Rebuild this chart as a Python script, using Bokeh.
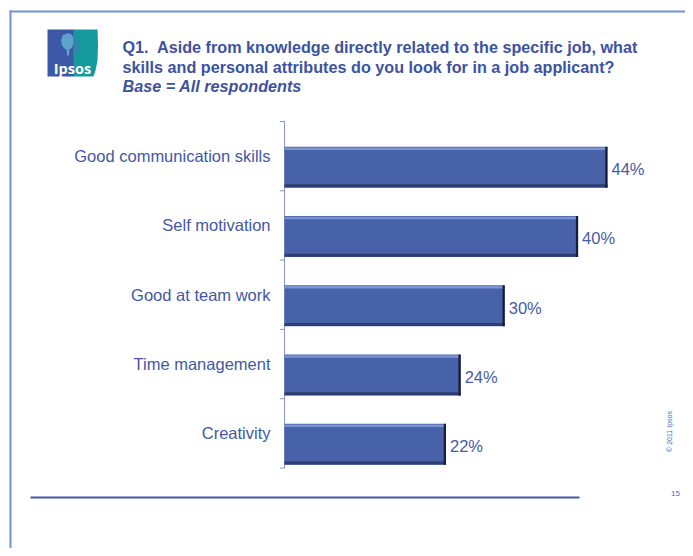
import math
from bokeh.plotting import figure
from bokeh.models import Range1d
from bokeh.core.properties import value
from bokeh.embed import file_html
from bokeh.resources import INLINE

# ---- data ----
categories = ["Good communication skills", "Self motivation", "Good at team work",
              "Time management", "Creativity"]
percent = [44, 40, 30, 24, 22]
value_labels = ["44%", "40%", "30%", "24%", "22%"]
title_lines = ["Q1.\u00a0 Aside from knowledge directly related to the specific job, what",
               "skills and personal attributes do you look for in a job applicant?"]
base_text = "Base = All respondents"

W, H = 685, 548
# chart geometry (page pixels)
AX_X, AX_TOP, BAND, PX_PER_PCT = 284, 121, 69.3, 7.34

n = len(categories)
cat_pos = [k + 0.5 for k in range(n)]              # band centres, top to bottom
bar_off = 11 / BAND
bar_y = [c + bar_off for c in cat_pos]
boundaries = list(range(n + 1))

p = figure(width=W, height=H, output_backend="svg", toolbar_location=None,
           x_range=Range1d(0, W), y_range=Range1d(H, 0),
           x_axis_location=None, y_axis_location=None,
           min_border=0)
p.extra_x_ranges = {"pct": Range1d(-AX_X / PX_PER_PCT, (W - AX_X) / PX_PER_PCT)}
p.extra_y_ranges = {"cat": Range1d((H - AX_TOP) / BAND, -AX_TOP / BAND)}
p.outline_line_color = None
p.grid.visible = False
p.background_fill_color = "white"
p.border_fill_color = "white"

LBL = "#4357a5"
FONT = value("Liberation Sans")

# ---- category axis ----
p.segment(x0=[0], y0=[0], x1=[0], y1=[n], x_range_name="pct", y_range_name="cat",
          line_color="#8c96c4", line_width=1)
p.scatter(x=[-2.2 / PX_PER_PCT] * len(boundaries), y=boundaries, marker="dash", size=5,
          line_color="#8c96c4", x_range_name="pct", y_range_name="cat")
p.text(x=[0] * n, y=cat_pos, text=categories, x_offset=-14, text_align="right",
       text_baseline="middle", text_font=FONT, text_font_size="16.5px", text_color=LBL,
       x_range_name="pct", y_range_name="cat")

# ---- bars ----
bh = 41 / BAND
px = 1.0 / BAND
p.hbar(y=bar_y, right=percent, left=0, height=bh, fill_color="#4762a9", line_color=None,
       x_range_name="pct", y_range_name="cat")
p.hbar(y=[b - bh / 2 + 2 * px for b in bar_y], right=percent, left=0, height=2.5 * px,
       fill_color="#7a93d2", line_color=None, x_range_name="pct", y_range_name="cat")
p.hbar(y=[b + bh / 2 - 1.8 * px for b in bar_y], right=percent, left=0, height=3 * px,
       fill_color="#2c3d72", line_color=None, x_range_name="pct", y_range_name="cat")
p.hbar(y=bar_y, right=percent, left=[v - 0.3 for v in percent], height=bh,
       fill_color="#161c3a", line_color=None, x_range_name="pct", y_range_name="cat")

p.text(x=percent, y=[b + 2 * px for b in bar_y], text=value_labels, x_offset=4,
       text_baseline="middle", text_font=FONT, text_font_size="16.5px",
       text_color="#4a5aa8", x_range_name="pct", y_range_name="cat")

# ---- slide decorations (page pixel coordinates) ----
p.quad(left=[9, 9], right=[11, W], top=[10, 10], bottom=[H, 12],
       fill_color="#6f93d0", line_color=None)
p.quad(left=[30], right=[579], top=[496], bottom=[498], fill_color="#4159a6", line_color=None)

# logo
p.patch(x=[47, 73.5, 73.5, 47], y=[29, 29, 76, 76], fill_color="#3c57a6", line_color=None)
p.patch(x=[73, 97, 97.5, 97, 95, 93, 73], y=[29, 29, 45, 60, 70, 76, 76],
        fill_color="#14999c", line_color=None)
# tree crown + trunk
p.patch(x=[66, 62, 60.5, 61.5, 64, 66, 66.5, 68.5, 69, 71.5, 73, 73, 71, 69],
        y=[33, 35, 40, 45, 48, 49, 55, 55, 49, 47, 43, 37, 34, 33],
        fill_color="#5da3cb", line_color=None)
# head profile
p.patch(x=[73, 76, 78, 78.5, 80, 78.5, 79, 77, 75, 73],
        y=[34, 35, 38, 42, 45, 46, 49, 52, 55, 55],
        fill_color="#2c8aa9", line_color=None)
p.text(x=[72], y=[68], text=["Ipsos"], text_align="center", text_baseline="alphabetic",
       text_font=value("Open Sans"), text_font_size="14.5px", text_font_style="bold",
       text_color="white")

# title
p.text(x=[122, 122], y=[46.5, 66], text=title_lines, text_baseline="middle",
       text_font=FONT, text_font_size="16.2px", text_font_style="bold", text_color="#3d53a0")
p.text(x=[122], y=[85.5], text=[base_text], text_baseline="middle",
       text_font=FONT, text_font_size="16.2px", text_font_style="bold italic",
       text_color="#3d53a0")

p.text(x=[669], y=[431], text=["© 2011 Ipsos"], angle=math.pi / 2, text_align="center",
       text_baseline="middle", text_font=FONT, text_font_size="7px", text_color="#4a6ab0")
p.text(x=[675], y=[493], text=["15"], text_align="center", text_baseline="middle",
       text_font=FONT, text_font_size="8px", text_color="#4a6ab0")

open("out.html", "w").write(file_html(p, INLINE))
